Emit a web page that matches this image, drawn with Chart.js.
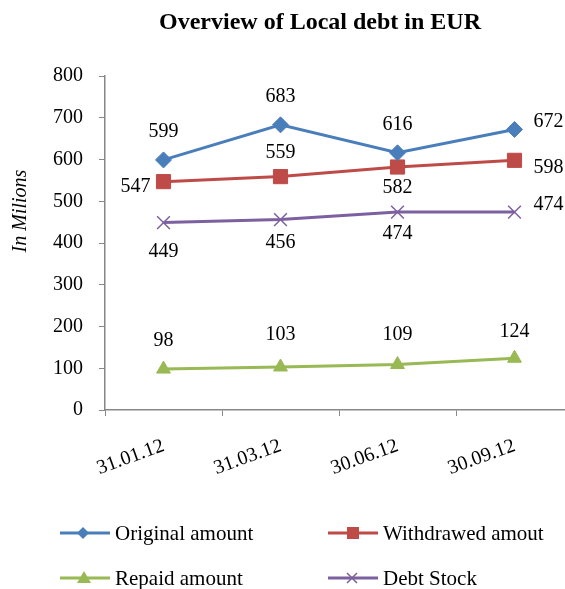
<!DOCTYPE html>
<html>
<head>
<meta charset="utf-8">
<script src="https://cdn.jsdelivr.net/npm/chart.js@4/dist/chart.umd.min.js"></script>
<style>
  html, body { margin:0; padding:0; background:#fff; overflow:hidden; }
  #wrap { position:relative; width:585px; height:589px; }
  #legend { position:absolute; left:0; top:0; width:585px; height:589px; pointer-events:none;
            font-family:"Liberation Serif","Times New Roman",serif; font-size:21px; color:#000; }
  .li { position:absolute; display:flex; align-items:center; white-space:nowrap; }
  .li svg { margin-right:5px; }
</style>
</head>
<body>
<div id="wrap">
  <canvas id="c" width="585" height="589"></canvas>
  <div id="legend"></div>
</div>
<script>
// ---- data ----
const categories = ["31.01.12", "31.03.12", "30.06.12", "30.09.12"];
const originalAmount = [599, 683, 616, 672];
const withdrawedAmount = [547, 559, 582, 598];
const repaidAmount = [98, 103, 109, 124];
const debtStock = [449, 456, 474, 474];
const yTicks = [0, 100, 200, 300, 400, 500, 600, 700, 800];
const seriesNames = ["Original amount", "Withdrawed amout", "Repaid amount", "Debt Stock"];
const chartTitle = "Overview of Local debt in EUR";
const yTitle = "In Milions";

// ---- styles ----
const colors = ["#4A7EBB", "#BE4B48", "#98B954", "#7D60A0"];
const pointStyles = ["rectRot", "rect", "triangle", "crossRot"];
const pointRadii = [8, 10, 8, 9];
// label placement per series per point: [dx, dy, side]
const labelOffsets = [
  [[0,-28],[0,-28],[0,-28],[0,-8,'right']],
  [[0,5,'left'],[0,-24],[0,21],[0,7,'right']],
  [[0,-28],[0,-32],[0,-30],[0,-26]],
  [[0,29],[0,23],[0,22],[0,-7,'right']]
];

const FONT = '"Liberation Serif","Times New Roman",serif';

const labelPlugin = {
  id: 'pointLabels',
  afterDatasetsDraw(chart) {
    const ctx = chart.ctx;
    ctx.save();
    ctx.font = '20px ' + FONT;
    ctx.fillStyle = '#000';
    ctx.textBaseline = 'middle';
    chart.data.datasets.forEach((ds, di) => {
      const meta = chart.getDatasetMeta(di);
      meta.data.forEach((pt, i) => {
        const off = labelOffsets[di][i];
        const txt = String(ds.data[i]);
        let x = pt.x + off[0], y = pt.y + off[1];
        if (off[2] === 'right') { ctx.textAlign = 'left'; x = pt.x + 19; }
        else if (off[2] === 'left') { ctx.textAlign = 'right'; x = pt.x - 13; }
        else ctx.textAlign = 'center';
        ctx.fillText(txt, x, y);
      });
    });
    ctx.restore();
  },
  afterDraw(chart) {
    const ctx = chart.ctx;
    // chart title
    ctx.save();
    ctx.font = 'bold 24px ' + FONT;
    ctx.fillStyle = '#000';
    ctx.textAlign = 'center';
    ctx.textBaseline = 'alphabetic';
    ctx.fillText(chartTitle, 320, 29);
    ctx.restore();
    // y axis title
    ctx.save();
    ctx.translate(21, 211);
    ctx.rotate(-Math.PI / 2);
    ctx.font = 'italic 20px ' + FONT;
    ctx.fillStyle = '#000';
    ctx.textAlign = 'center';
    ctx.textBaseline = 'middle';
    ctx.fillText(yTitle, 0, 0);
    ctx.restore();
  }
};

const datasets = [originalAmount, withdrawedAmount, repaidAmount, debtStock].map((d, i) => ({
  label: seriesNames[i],
  data: d,
  borderColor: colors[i],
  backgroundColor: colors[i],
  borderWidth: 3,
  pointStyle: pointStyles[i],
  pointRadius: pointRadii[i],
  pointBorderWidth: pointStyles[i] === 'crossRot' ? 1.5 : 1,
  pointBorderColor: colors[i],
  pointBackgroundColor: colors[i],
  tension: 0
}));

new Chart(document.getElementById('c'), {
  type: 'line',
  data: { labels: categories, datasets },
  options: {
    responsive: false,
    animation: false,
    layout: { padding: { left: 0, right: 12, top: 76, bottom: 109 } },
    plugins: {
      legend: { display: false },
      tooltip: { enabled: false },
      title: { display: false }
    },
    scales: {
      x: {
        offset: true,
        grid: { offset: true, drawOnChartArea: false, drawTicks: true, tickLength: 6, color: '#888', tickColor: '#888' },
        border: { color: '#888', width: 1.5 },
        ticks: { color: '#000', font: { family: FONT, size: 20 }, minRotation: 20, maxRotation: 20, padding: 18 },
        afterFit(s) { s.height = 70; }
      },
      y: {
        min: 0, max: 800,
        afterBuildTicks(s) { s.ticks = yTicks.map(v => ({ value: v })); },
        grid: { drawOnChartArea: false, drawTicks: true, tickLength: 6, color: '#888', tickColor: '#888' },
        border: { color: '#888', width: 1.5 },
        ticks: { color: '#000', font: { family: FONT, size: 20 }, padding: 16 },
        title: { display: false },
        afterFit(s) { s.width = 105; }
      }
    }
  },
  plugins: [labelPlugin]
});

// ---- legend (HTML) ----
const legendPos = [[60, 533], [328, 533], [60, 578], [328, 578]];
const legend = document.getElementById('legend');
function markerSvg(i) {
  const c = colors[i];
  let m = '';
  if (i === 0) m = `<polygon points="23,1 29,7 23,13 17,7" fill="${c}"/>`;
  if (i === 1) m = `<rect x="19" y="1" width="12" height="12" fill="${c}"/>`;
  if (i === 2) m = `<polygon points="24,0 31,12 17,12" fill="${c}"/>`;
  if (i === 3) m = `<path d="M19 2 L29 12 M29 2 L19 12" stroke="${c}" stroke-width="1.5"/>`;
  return `<svg width="50" height="14" viewBox="0 0 50 14"><line x1="0" y1="7" x2="50" y2="7" stroke="${c}" stroke-width="3"/>${m}</svg>`;
}
seriesNames.forEach((n, i) => {
  const d = document.createElement('div');
  d.className = 'li';
  d.style.left = legendPos[i][0] + 'px';
  d.style.top = (legendPos[i][1] - 12) + 'px';
  d.style.height = '24px';
  d.innerHTML = markerSvg(i) + '<span>' + n + '</span>';
  legend.appendChild(d);
});
</script>
</body>
</html>
